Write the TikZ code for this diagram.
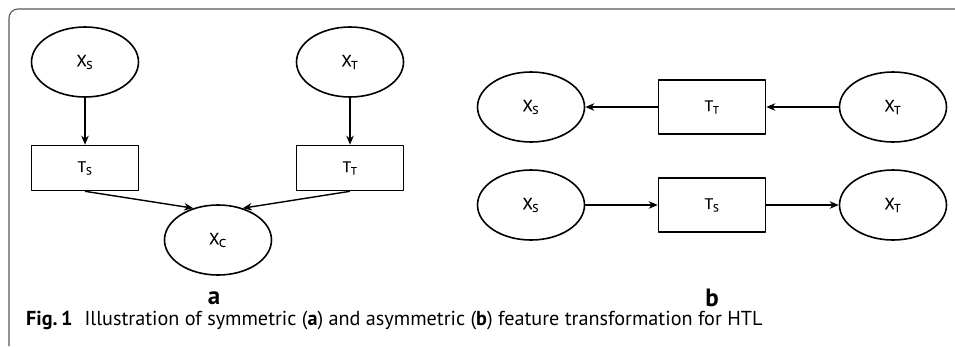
\documentclass[tikz,border=0pt]{standalone}
\usepackage{fontspec}
\setmainfont{PT Sans}
\newfontfamily\lblfont{Open Sans}[FakeBold=0.6]
\usetikzlibrary{arrows.meta, shapes.geometric}

\newcommand{\var}[2]{{\lblfont\addfontfeature{FakeBold=0.6}#1\textsubscript{#2}}}

\begin{document}
\begin{tikzpicture}[x=1pt, y=-1pt, line join = round,
  feat/.style = {draw, line width=1.6pt, ellipse, minimum width=107pt, minimum height=70pt, font=\fontsize{16}{18}\selectfont},
  trans/.style = {draw, line width=1.6pt, rectangle, minimum width=107pt, font=\fontsize{15}{17}\selectfont},
  flow/.style = {-{Stealth[length=9pt, width=7.5pt]}, line width=1.4pt}]
\useasboundingbox (0,0) rectangle (955,346);

% frame
\draw[gray!70!black, line width=1.1pt, rounded corners=9pt] (955,9) -- (9,9) -- (9,346);

% (a) symmetric
\node [feat] (xs) at (85,62) {\var{X}{S}};
\node [feat] (xt) at (350,62) {\var{X}{T}};
\node [trans, minimum height=45pt] (ts) at (85,168) {\var{T}{S}};
\node [trans, minimum height=45pt] (tt) at (350,168) {\var{T}{T}};
\node [feat] (xc) at (218,240) {\var{X}{C}};

\draw[flow] (xs) -- (ts);
\draw[flow] (xt) -- (tt);
\draw[flow] (ts.south) -- (xc.128);
\draw[flow] (tt.south) -- (xc.52);

\node[font=\bfseries\fontsize{25}{28}\selectfont] (la) at (214,298) {a};

% (b) asymmetric
\node [feat] (xs1) at (531,107) {\var{X}{S}};
\node [trans, minimum height=54pt] (tt1) at (712,107) {\var{T}{T}};
\node [feat] (xt1) at (893,107) {\var{X}{T}};
\node [feat] (xs2) at (531,205) {\var{X}{S}};
\node [trans, minimum height=54pt] (ts2) at (712,205) {\var{T}{S}};
\node [feat] (xt2) at (893,205) {\var{X}{T}};

\draw[flow] (xt1) -- (tt1);
\draw[flow] (tt1) -- (xs1);
\draw[flow] (xs2) -- (ts2);
\draw[flow] (ts2) -- (xt2);

\node[font=\bfseries\fontsize{25}{28}\selectfont] (lb) at (712,298) {b};

% caption
\node[anchor=west, inner sep=0pt, font=\fontsize{20.2}{23}\selectfont] (cap) at (26,321)
  {\textbf{Fig.\,1}\hspace{12pt}Illustration of symmetric (\textbf{a}) and asymmetric (\textbf{b}) feature transformation for HTL};
\end{tikzpicture}
\end{document}
